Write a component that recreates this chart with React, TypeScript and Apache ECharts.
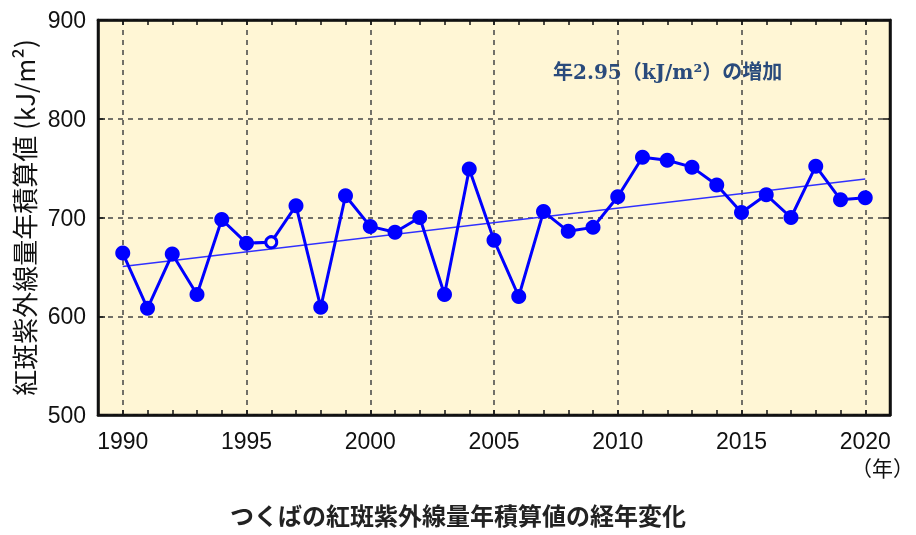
import React, { useEffect, useRef } from "react";
import * as echarts from "echarts";

const years = Array.from({ length: 33 }, (_, i) => String(1989 + i));
const dataYears = [
  "1990", "1991", "1992", "1993", "1994", "1995", "1996", "1997", "1998", "1999",
  "2000", "2001", "2002", "2003", "2004", "2005", "2006", "2007", "2008", "2009",
  "2010", "2011", "2012", "2013", "2014", "2015", "2016", "2017", "2018", "2019", "2020",
];
const uvValues = [
  664, 608, 663, 622, 698, 674, 675, 712, 609, 722,
  691, 685, 700, 622, 749, 677, 620, 706, 686, 690,
  721, 761, 758, 751, 733, 705, 723, 700, 752, 718, 720,
];
const openYear = "1996";
const trendYears = ["1990", "2020"];
const trendValues = [650.5, 739];

const yTitle = "紅斑紫外線量年積算値 (kJ/m²)";
const annotation = "年2.95（kJ/m²）の増加";
const bottomTitle = "つくばの紅斑紫外線量年積算値の経年変化";
const unitLabel = "（年）";

const BG = "#FFF6D5";

export default function App() {
  const ref = useRef<HTMLDivElement>(null);
  useEffect(() => {
    if (!ref.current) return;
    const chart = echarts.init(ref.current, null, { renderer: "svg" });
    const tickFont = { fontFamily: "Liberation Sans, Arial, sans-serif", fontSize: 23, color: "#111" };
    const isMajor = (_i: number, v: string) => Number(v) % 5 === 0;
    const xCommon = {
      type: "category",
      data: years,
      boundaryGap: false,
      axisLine: { show: true, lineStyle: { color: "#111", width: 2.5 } },
      axisTick: { show: true, inside: true, length: 5, interval: 0, lineStyle: { color: "#111", width: 1.5 } },
    };
    chart.setOption({
      animation: false,
      grid: {
        left: 98, top: 20, right: 26, bottom: 120,
        outerBoundsMode: "none",
        containLabel: false,
        show: true, backgroundColor: BG, borderColor: "#111", borderWidth: 2.5,
      },
      xAxis: [
        {
          ...xCommon,
          position: "bottom",
          axisLabel: { ...tickFont, interval: isMajor, margin: 14 },
          splitLine: { show: true, interval: isMajor, lineStyle: { color: "#444", type: [5, 5], width: 1.5 } },
        },
        {
          ...xCommon,
          position: "top",
          axisLabel: { show: false },
          splitLine: { show: false },
        },
      ],
      yAxis: [
        {
          type: "value", min: 500, max: 900, interval: 100, position: "left",
          axisLine: { show: true, lineStyle: { color: "#111", width: 2.5 } },
          axisTick: { show: true, inside: true, length: 7, lineStyle: { color: "#111", width: 1.5 } },
          axisLabel: { ...tickFont, margin: 12 },
          splitLine: { show: true, lineStyle: { color: "#444", type: [5, 5], width: 1.5 } },
          name: yTitle,
          nameLocation: "middle",
          nameRotate: 90,
          nameGap: 61,
          nameTextStyle: { fontFamily: "Noto Sans CJK JP, sans-serif", fontSize: 26, color: "#111" },
        },
        {
          type: "value", min: 500, max: 900, interval: 100, position: "right",
          axisLine: { show: true, lineStyle: { color: "#111", width: 2.5 } },
          axisTick: { show: true, inside: true, length: 7, lineStyle: { color: "#111", width: 1.5 } },
          axisLabel: { show: false },
          splitLine: { show: false },
        },
      ],
      series: [
        {
          type: "line",
          data: trendYears.map((y, i) => [y, trendValues[i]]),
          symbol: "none",
          lineStyle: { color: "#3030ff", width: 1.5 },
          z: 2,
        },
        {
          type: "line",
          data: dataYears.map((y, i) =>
            y === openYear
              ? { value: [y, uvValues[i]], symbolSize: 11, itemStyle: { color: BG, borderColor: "#0000ff", borderWidth: 3 } }
              : { value: [y, uvValues[i]] }
          ),
          symbol: "circle",
          symbolSize: 15,
          itemStyle: { color: "#0000ff", borderWidth: 0 },
          lineStyle: { color: "#0000ff", width: 3 },
          z: 3,
        },
      ],
      graphic: [
        {
          type: "text", left: 553, top: 62,
          style: {
            text: annotation,
            font: "bold 20px 'DejaVu Serif', 'Liberation Serif', 'Noto Sans CJK JP', serif",
            fill: "#2A4B7C",
          },
        },
        {
          type: "text", right: 2, top: 456,
          style: { text: unitLabel, font: "21px 'Noto Sans CJK JP', sans-serif", fill: "#111" },
        },
        {
          type: "text", left: "center", top: 502,
          style: { text: bottomTitle, font: "bold 24px 'Noto Sans CJK JP', sans-serif", fill: "#222" },
        },
      ],
    });
    return () => chart.dispose();
  }, []);
  return <div ref={ref} style={{ position: "fixed", left: 0, top: 0, width: 916, height: 535 }} />;
}
